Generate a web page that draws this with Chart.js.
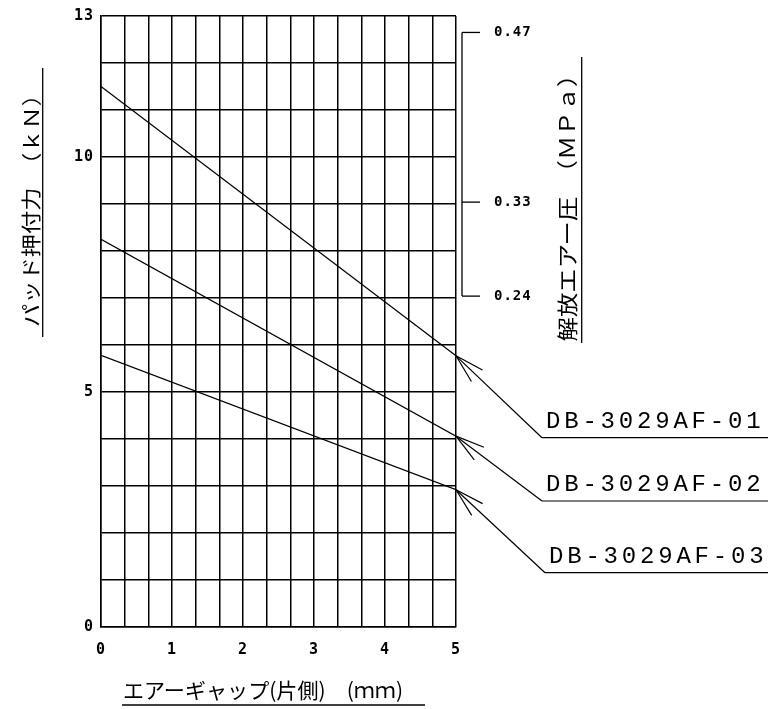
<!DOCTYPE html>
<html>
<head>
<meta charset="utf-8">
<script src="https://cdn.jsdelivr.net/npm/chart.js@4.4.0/dist/chart.umd.min.js"></script>
<style>
html,body{margin:0;padding:0;background:#fff;}
#wrap{width:773px;height:709px;}
</style>
</head>
<body>
<div id="wrap"><canvas id="myChart" width="773" height="709"></canvas></div>
<script>
// ***********data***********
const gapMm=[0,5];
const force01=[11.5,5.77];
const force02=[8.25,4.06];
const force03=[5.78,2.92];
const seriesNames=['DB-3029AF-01','DB-3029AF-02','DB-3029AF-03'];
const forceLabelTicks=[0,5,10,13];
const gapLabelTicks=[0,1,2,3,4,5];
const pressureLabels=['0.47','0.33','0.24'];
const pressureAtForce=[12.65,9.04,7.04];

const yTitle='パッド押付力　（ｋＮ）';
const y2Title='解放エアー圧　（ＭＰａ）';
const xTitle='エアーギャップ(片側)　(ｍｍ)';

// grid ticks: 1 kN rows, 1/3 mm columns
const forceGrid=[];
for(let i=0;i<=13;i++)forceGrid.push(i);
const gapGrid=[];
for(let i=0;i<=15;i++)gapGrid.push(i/3);

const ctx=document.getElementById('myChart');
const tickFont={family:'DejaVu Sans Mono',size:15,weight:'bold'};

function isLabel(list,v){return list.some(t=>Math.abs(t-v)<1e-6);}

function fitText(c,text,cx,cy,w,font,rot){
  c.save();
  c.translate(cx,cy);
  c.rotate(rot);
  c.font=font;
  const m=c.measureText(text).width;
  c.scale(w/m,1);
  c.textAlign='center';
  c.textBaseline='middle';
  c.fillText(text,0,0);
  c.restore();
}

function line(c,x1,y1,x2,y2){
  c.beginPath();c.moveTo(x1,y1);c.lineTo(x2,y2);c.stroke();
}

// ********extra drawing: titles, pressure scale, leaders******
const extras={
  id:'extras',
  beforeDraw(chart){
    // spaced-out digits like the drawing
    if('letterSpacing' in chart.ctx)chart.ctx.letterSpacing='1px';
  },
  afterDraw(chart){
    const c=chart.ctx;
    const area=chart.chartArea;
    const ys=chart.scales.y;
    c.save();
    c.strokeStyle='#000';
    c.fillStyle='#000';
    c.lineWidth=1.3;
    if('letterSpacing' in c)c.letterSpacing='0px';

    // titles + underlines
    fitText(c,yTitle,31,205,244,'20px "Noto Sans CJK JP"',-Math.PI/2);
    line(c,42.7,68,42.7,337);
    fitText(c,y2Title,567,202,279,'21px "Noto Sans CJK JP"',-Math.PI/2);
    line(c,581.7,57,581.7,343);
    fitText(c,xTitle,263,690,280,'21px "Noto Sans CJK JP"',0);
    line(c,122,705,425,705);

    // pressure bracket scale
    const bx=area.right+6;
    const pys=pressureAtForce.map(v=>ys.getPixelForValue(v));
    line(c,bx,Math.min(...pys),bx,Math.max(...pys));
    c.font='bold 14px "DejaVu Sans Mono"';
    if('letterSpacing' in c)c.letterSpacing='1px';
    c.textAlign='left';
    c.textBaseline='middle';
    pressureLabels.forEach((t,i)=>{
      line(c,bx,pys[i],bx+18,pys[i]);
      c.fillText(t,bx+32,pys[i]);
    });
    if('letterSpacing' in c)c.letterSpacing='0px';

    // leader lines with arrows
    const elbows=[[542,437.7],[542,501],[545,572.7]];
    const textX=[546,546,549];
    c.font='24px "Liberation Mono"';
    c.textBaseline='alphabetic';
    seriesNames.forEach((name,i)=>{
      const pts=chart.getDatasetMeta(i).data;
      const tip=pts[pts.length-1];
      const ex=elbows[i][0],ey=elbows[i][1];
      c.lineWidth=1.2;
      line(c,tip.x,tip.y,ex,ey);
      line(c,ex,ey,768,ey);
      const a=Math.atan2(ey-tip.y,ex-tip.x);
      [-0.27,0.27].forEach(d=>{
        line(c,tip.x,tip.y,tip.x+30*Math.cos(a+d),tip.y+30*Math.sin(a+d));
      });
      for(let k=0;k<name.length;k++){
        c.fillText(name[k],textX[i]+k*18.2,ey-10);
      }
    });
    c.restore();
  }
};

function mkSet(vals){
  return {
    data:gapMm.map((x,i)=>({x:x,y:vals[i]})),
    borderColor:'#000',
    borderWidth:1.3,
    pointRadius:0,
    tension:0,
    fill:false
  };
}

new Chart(ctx,{
  type:'line',
  data:{datasets:[mkSet(force01),mkSet(force02),mkSet(force03)]},
  options:{
    responsive:false,
    animation:false,
    events:[],
    layout:{padding:{left:0,right:317,top:14,bottom:0}},
    plugins:{legend:{display:false},tooltip:{enabled:false}},
    scales:{
      x:{
        type:'linear',min:0,max:5,
        afterBuildTicks:axis=>{axis.ticks=gapGrid.map(v=>({value:v}));},
        afterFit:s=>{s.height=82;},
        ticks:{
          autoSkip:false,maxRotation:0,padding:14,color:'#000',font:tickFont,
          callback:v=>isLabel(gapLabelTicks,v)?String(Math.round(v)):''
        },
        grid:{color:'#000',lineWidth:1.5,drawTicks:false},
        border:{color:'#000',width:1.5}
      },
      y:{
        type:'linear',min:0,max:13,
        afterBuildTicks:axis=>{axis.ticks=forceGrid.map(v=>({value:v}));},
        afterFit:s=>{s.width=101;},
        ticks:{
          autoSkip:false,padding:7,color:'#000',font:tickFont,
          callback:v=>isLabel(forceLabelTicks,v)?String(v):''
        },
        grid:{color:'#000',lineWidth:1.5,drawTicks:false},
        border:{color:'#000',width:1.5}
      }
    }
  },
  plugins:[extras]
});
</script>
</body>
</html>
